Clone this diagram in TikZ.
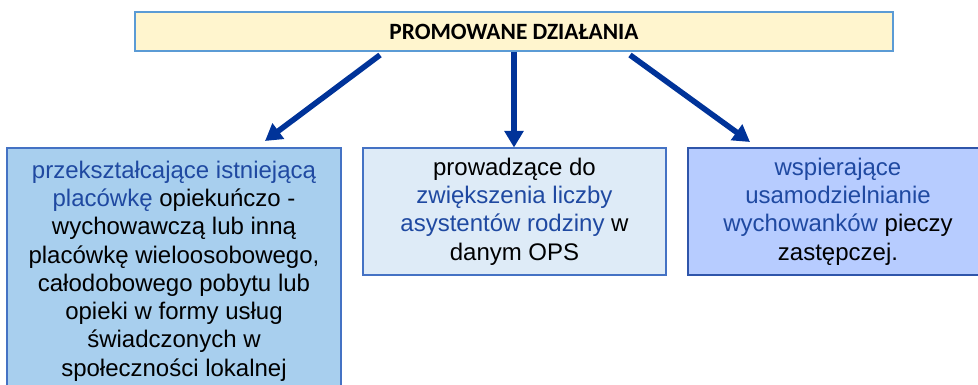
\documentclass[tikz,border=0pt]{standalone}
\usepackage{fontspec}
\setmainfont{Liberation Sans}
\newfontfamily\titlefont{Carlito}
\usetikzlibrary{arrows.meta}

\definecolor{titlefill}{RGB}{255,245,206}
\definecolor{titleline}{RGB}{91,155,213}
\definecolor{leftfill}{RGB}{168,207,238}
\definecolor{midfill}{RGB}{222,235,247}
\definecolor{rightfill}{RGB}{183,204,255}
\definecolor{boxline}{RGB}{68,114,196}
\definecolor{darkline}{RGB}{47,85,170}
\definecolor{kwblue}{RGB}{31,73,161}
\definecolor{arrowblue}{RGB}{0,51,153}

\newcommand{\kw}[1]{\textcolor{kwblue}{#1}}

\tikzset{
  actionbox/.style={
    rectangle,
    draw=boxline,
    line width=0.8pt,
    align=center,
    inner sep=0pt,
    font=\fontsize{18}{21.2}\selectfont
  },
  arrowline/.style={
    -{Triangle[width=14pt,length=12.5pt]},
    line width=4.2pt,
    arrowblue
  }
}

\begin{document}
\begin{tikzpicture}[x=0.75pt, y=-0.75pt]
  \useasboundingbox (0, 0) rectangle (978, 385);
  \clip (0, 0) rectangle (978, 385);

  \node[
    rectangle,
    draw=titleline,
    line width=1.2pt,
    fill=titlefill,
    minimum width=758*0.75pt,
    minimum height=39*0.75pt,
    font=\titlefont\bfseries\fontsize{17.5}{20}\selectfont
  ] (title) at (514, 31.5) {PROMOWANE DZIAŁANIA};

  \node[
    actionbox,
    fill=leftfill,
    minimum width=334*0.75pt,
    minimum height=246*0.75pt
  ] (left) at (174, 271) {\kw{przekształcające istniejącą}\\
    \kw{placówkę} opiekuńczo -\\
    wychowawczą lub inną\\
    placówkę wieloosobowego,\\
    całodobowego pobytu lub\\
    opieki w formy usług\\
    świadczonych w\\
    społeczności lokalnej};

  \node[
    actionbox,
    fill=midfill,
    minimum width=303*0.75pt,
    minimum height=127*0.75pt
  ] (mid) at (514.5, 211.5) {prowadzące do\\
    \kw{zwiększenia liczby}\\
    \kw{asystentów rodziny} w\\
    danym OPS};

  \node[
    actionbox,
    draw=darkline,
    line width=1.2pt,
    fill=rightfill,
    minimum width=300*0.75pt,
    minimum height=127*0.75pt
  ] (right) at (838, 211.5) {\kw{wspierające}\\
    \kw{usamodzielnianie}\\
    \kw{wychowanków} pieczy\\
    zastępczej.};

  \coordinate (l1) at (380, 55);
  \coordinate (l2) at (265, 141);
  \coordinate (r1) at (630, 55);
  \coordinate (r2) at (750, 142);

  \draw[arrowline] (l1) -- (l2);
  \draw[arrowline] (title.south) -- (title.south |- mid.north);
  \draw[arrowline] (r1) -- (r2);

\end{tikzpicture}
\end{document}
